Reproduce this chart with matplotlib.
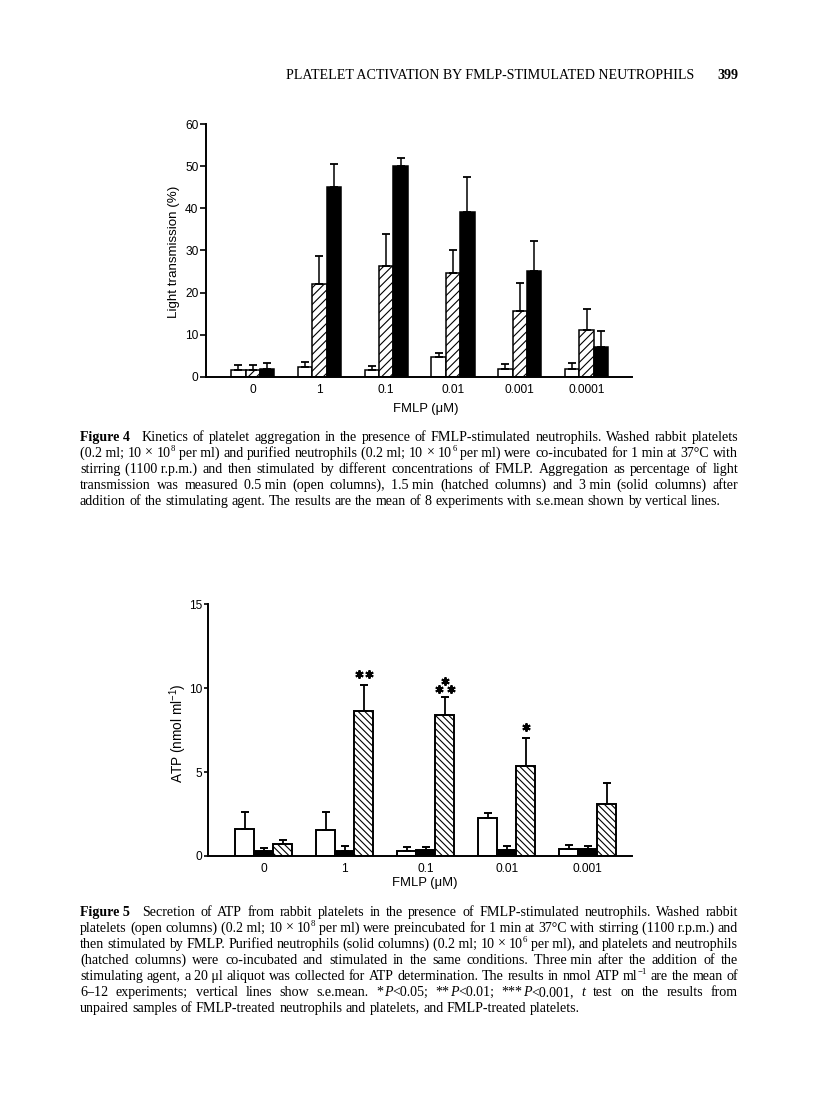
import numpy as np
import matplotlib
matplotlib.use("Agg")
import matplotlib.pyplot as plt
from matplotlib.transforms import offset_copy

# ------------------------------------------------------------------ data
fig4_categories = ["0", "1", "0.1", "0.01", "0.001", "0.0001"]
fig4_open = [1.6, 2.3, 1.7, 4.6, 1.8, 1.8]
fig4_open_sem = [1.2, 1.1, 0.8, 1.1, 1.3, 1.4]
fig4_hatched = [1.6, 22.0, 26.4, 24.7, 15.6, 11.1]
fig4_hatched_sem = [1.2, 6.8, 7.5, 5.5, 6.6, 5.0]
fig4_solid = [1.8, 45.2, 50.2, 39.1, 25.2, 7.1]
fig4_solid_sem = [1.4, 5.4, 1.8, 8.3, 7.1, 3.8]
fig4_yticks = [0, 10, 20, 30, 40, 50, 60]

fig5_categories = ["0", "1", "0.1", "0.01", "0.001"]
fig5_open = [1.6, 1.55, 0.3, 2.25, 0.4]
fig5_open_sem = [1.05, 1.05, 0.22, 0.3, 0.24]
fig5_solid = [0.3, 0.3, 0.36, 0.36, 0.4]
fig5_solid_sem = [0.2, 0.3, 0.18, 0.22, 0.2]
fig5_hatched = [0.72, 8.67, 8.43, 5.37, 3.1]
fig5_hatched_sem = [0.23, 1.51, 1.05, 1.69, 1.25]
fig5_stars = ["", "**", "***", "*", ""]
fig5_yticks = [0, 5, 10, 15]

header_text = "PLATELET ACTIVATION BY FMLP-STIMULATED NEUTROPHILS"
page_number = "399"

caption4 = [
    "#Figure~4\u2002 Kinetics of platelet aggregation in the presence of FMLP-stimulated neutrophils. Washed rabbit platelets",
    "(0.2~ml; 10 × 10|^8 per~ml) and purified neutrophils (0.2~ml; 10 × 10|^6 per~ml) were co-incubated for 1~min at 37°C with",
    "stirring (1100~r.p.m.) and then stimulated by different concentrations of FMLP. Aggregation as percentage of light",
    "transmission was measured 0.5~min (open columns), 1.5~min (hatched columns) and 3~min (solid columns) after",
    "addition of the stimulating agent. The results are the mean of 8 experiments with s.e.mean shown by vertical lines.",
]
caption5 = [
    "#Figure~5\u2002 Secretion of ATP from rabbit platelets in the presence of FMLP-stimulated neutrophils. Washed rabbit",
    "platelets (open columns) (0.2~ml; 10 × 10|^8 per~ml) were preincubated for 1~min at 37°C with stirring (1100~r.p.m.) and",
    "then stimulated by FMLP. Purified neutrophils (solid columns) (0.2~ml; 10 × 10|^6 per~ml), and platelets and neutrophils",
    "(hatched columns) were co-incubated and stimulated in the same conditions. Three~min after the addition of the",
    "stimulating agent, a 20~μl aliquot was collected for ATP determination. The results in nmol ATP ml|^−1 are the mean of",
    "6–12 experiments; vertical lines show s.e.mean. *|_P|<0.05; **|_P|<0.01; ***|_P|<0.001, _t test on the results from",
    "unpaired samples of FMLP-treated neutrophils and platelets, and FMLP-treated platelets.",
]

# ------------------------------------------------------------------ setup
plt.rcParams["font.family"] = ["Liberation Sans", "DejaVu Sans"]
plt.rcParams["mathtext.fontset"] = "custom"
plt.rcParams["mathtext.rm"] = "Liberation Sans"
plt.rcParams["mathtext.it"] = "Liberation Sans:italic"
plt.rcParams["hatch.linewidth"] = 0.8
SERIF = ["Liberation Serif", "DejaVu Serif"]

W, H = 816, 1104
fig = plt.figure(figsize=(W / 100, H / 100), dpi=100)
fig.patch.set_facecolor("white")


def axes_px(left, right, top, bottom):
    return fig.add_axes([left / W, 1 - bottom / H, (right - left) / W, (bottom - top) / H])


def style_axes(ax, ylim, yticks, cats, tick_len):
    ax.set_ylim(*ylim)
    ax.set_yticks(yticks)
    ax.set_xticks(np.arange(len(cats)))
    ax.set_xticklabels(cats)
    for s in ("top", "right"):
        ax.spines[s].set_visible(False)
    for s in ("left", "bottom"):
        ax.spines[s].set_linewidth(1.4)
    ax.tick_params(axis="y", direction="out", length=tick_len, width=1.2, labelsize=8.6, pad=1.5)
    ax.tick_params(axis="x", length=0, labelsize=8.6, pad=5)
    ax.set_facecolor("none")


# ------------------------------------------------------------------ Figure 4
ax4 = axes_px(206, 632, 124.3, 376.7)
x4 = np.arange(len(fig4_categories))
bw4 = 0.215
series4 = [
    (fig4_open, fig4_open_sem, dict(color="white")),
    (fig4_hatched, fig4_hatched_sem, dict(color="white", hatch="////")),
    (fig4_solid, fig4_solid_sem, dict(color="black")),
]
for k, (vals, sem, st) in enumerate(series4):
    xs = x4 + (k - 1) * bw4
    ax4.bar(xs, vals, width=bw4, edgecolor="black", linewidth=1.1, zorder=2, **st)
    ax4.errorbar(xs, vals, yerr=[np.zeros(len(vals)), sem], fmt="none", ecolor="black",
                 elinewidth=1.1, capsize=2.6, capthick=1.3, zorder=3)
ax4.set_xlim(-0.699, 5.68)
style_axes(ax4, (0, 60), fig4_yticks, fig4_categories, 4)
ax4.set_ylabel("Light transmission (%)", fontsize=9.6)
ax4.yaxis.set_label_coords(-0.062, 0.494)
ax4.set_xlabel("FMLP (μM)", fontsize=9.4)
ax4.xaxis.set_label_coords(0.515, -0.106)

# ------------------------------------------------------------------ Figure 5
ax5 = axes_px(208.3, 632, 604.3, 856)
x5 = np.arange(len(fig5_categories))
bw5 = 0.235
series5 = [
    (fig5_open, fig5_open_sem, dict(color="white")),
    (fig5_solid, fig5_solid_sem, dict(color="black")),
    (fig5_hatched, fig5_hatched_sem, dict(color="white", hatch="\\\\\\\\\\")),
]
for k, (vals, sem, st) in enumerate(series5):
    xs = x5 + (k - 1) * bw5
    ax5.bar(xs, vals, width=bw5, edgecolor="black", linewidth=1.4, zorder=2, **st)
    ax5.errorbar(xs, vals, yerr=[np.zeros(len(vals)), sem], fmt="none", ecolor="black",
                 elinewidth=1.3, capsize=2.6, capthick=1.4, zorder=3)
ax5.set_xlim(-0.684, 4.547)
style_axes(ax5, (0, 15), fig5_yticks, fig5_categories, 3)
ax5.set_ylabel("ATP (nmol ml$^{-1}$)", fontsize=9.8)
ax5.yaxis.set_label_coords(-0.045, 0.49)
ax5.set_xlabel("FMLP (μM)", fontsize=9.4)
ax5.xaxis.set_label_coords(0.51, -0.082)

# significance stars above hatched columns
star_layouts = {
    "*": [(0, 7.5)],
    "**": [(-3.6, 8.0), (3.6, 8.0)],
    "***": [(-4.2, 6.0), (4.2, 6.0), (0, 11.5)],
}
xs_h = x5 + 1 * bw5
for xi, top, sem, st in zip(xs_h, fig5_hatched, fig5_hatched_sem, fig5_stars):
    if not st:
        continue
    for dx, dy in star_layouts[st]:
        tr = offset_copy(ax5.transData, fig=fig, x=dx, y=dy, units="points")
        ax5.plot([xi], [top + sem], marker=(6, 2, 0), markersize=6, markeredgewidth=1.4,
                 color="black", transform=tr, clip_on=False, zorder=4)

# ------------------------------------------------------------------ page text
renderer = fig.canvas.get_renderer()


def parse_word(word):
    segs = []
    for s in word.split("|"):
        props, kind = {}, "n"
        if s.startswith("#"):
            props["weight"] = "bold"; s = s[1:]
        elif s.startswith("_"):
            props["style"] = "italic"; s = s[1:]
        elif s.startswith("^"):
            kind = "sup"; s = s[1:]
        segs.append((s.replace("~", " "), props, kind))
    return segs


def text_width(s, size, props):
    t = fig.text(0, 0, s, fontsize=size, family=SERIF, **props)
    w = t.get_window_extent(renderer).width
    t.remove()
    return w


def seg_size(size, kind):
    return size * 0.62 if kind == "sup" else size


def word_width(segs, size):
    return sum(text_width(s, seg_size(size, k), p) for s, p, k in segs)


def paragraph(lines, x0, x1, y_first, dy, target_fill=0.975):
    parsed = [[parse_word(w) for w in ln.split(" ")] for ln in lines]
    ref = 10.0
    nat = []
    for words in parsed[:-1]:
        ws = sum(word_width(w, ref) for w in words)
        nat.append(ws + (len(words) - 1) * 0.25 * ref * 100 / 72)
    size = ref * target_fill * (x1 - x0) / np.mean(nat)
    for i, words in enumerate(parsed):
        widths = [word_width(w, size) for w in words]
        if i < len(parsed) - 1 and len(words) > 1:
            gap = (x1 - x0 - sum(widths)) / (len(words) - 1)
        else:
            gap = 0.25 * size * 100 / 72
        yb = y_first + i * dy + 4.0
        x = x0
        for w, ww in zip(words, widths):
            xx = x
            for s, p, k in w:
                sz = seg_size(size, k)
                rise = 0.42 * size * 100 / 72 if k == "sup" else 0
                fig.text(xx / W, 1 - (yb - rise) / H, s, fontsize=sz, family=SERIF,
                         va="baseline", ha="left", **p)
                xx += text_width(s, sz, p)
            x += ww + gap
    return size


# running header
hw = text_width(header_text, 10, {})
hsize = 10 * (692 - 286) / hw
fig.text(286 / W, 1 - 79 / H, header_text, fontsize=hsize, family=SERIF, va="baseline", ha="left")
fig.text(738 / W, 1 - 79 / H, page_number, fontsize=hsize, family=SERIF, weight="bold",
         va="baseline", ha="right")

paragraph(caption4, 80, 738, 437, 16.0)
paragraph(caption5, 80, 738, 912, 16.0)

fig.savefig("out.png", dpi=100, facecolor="white")
